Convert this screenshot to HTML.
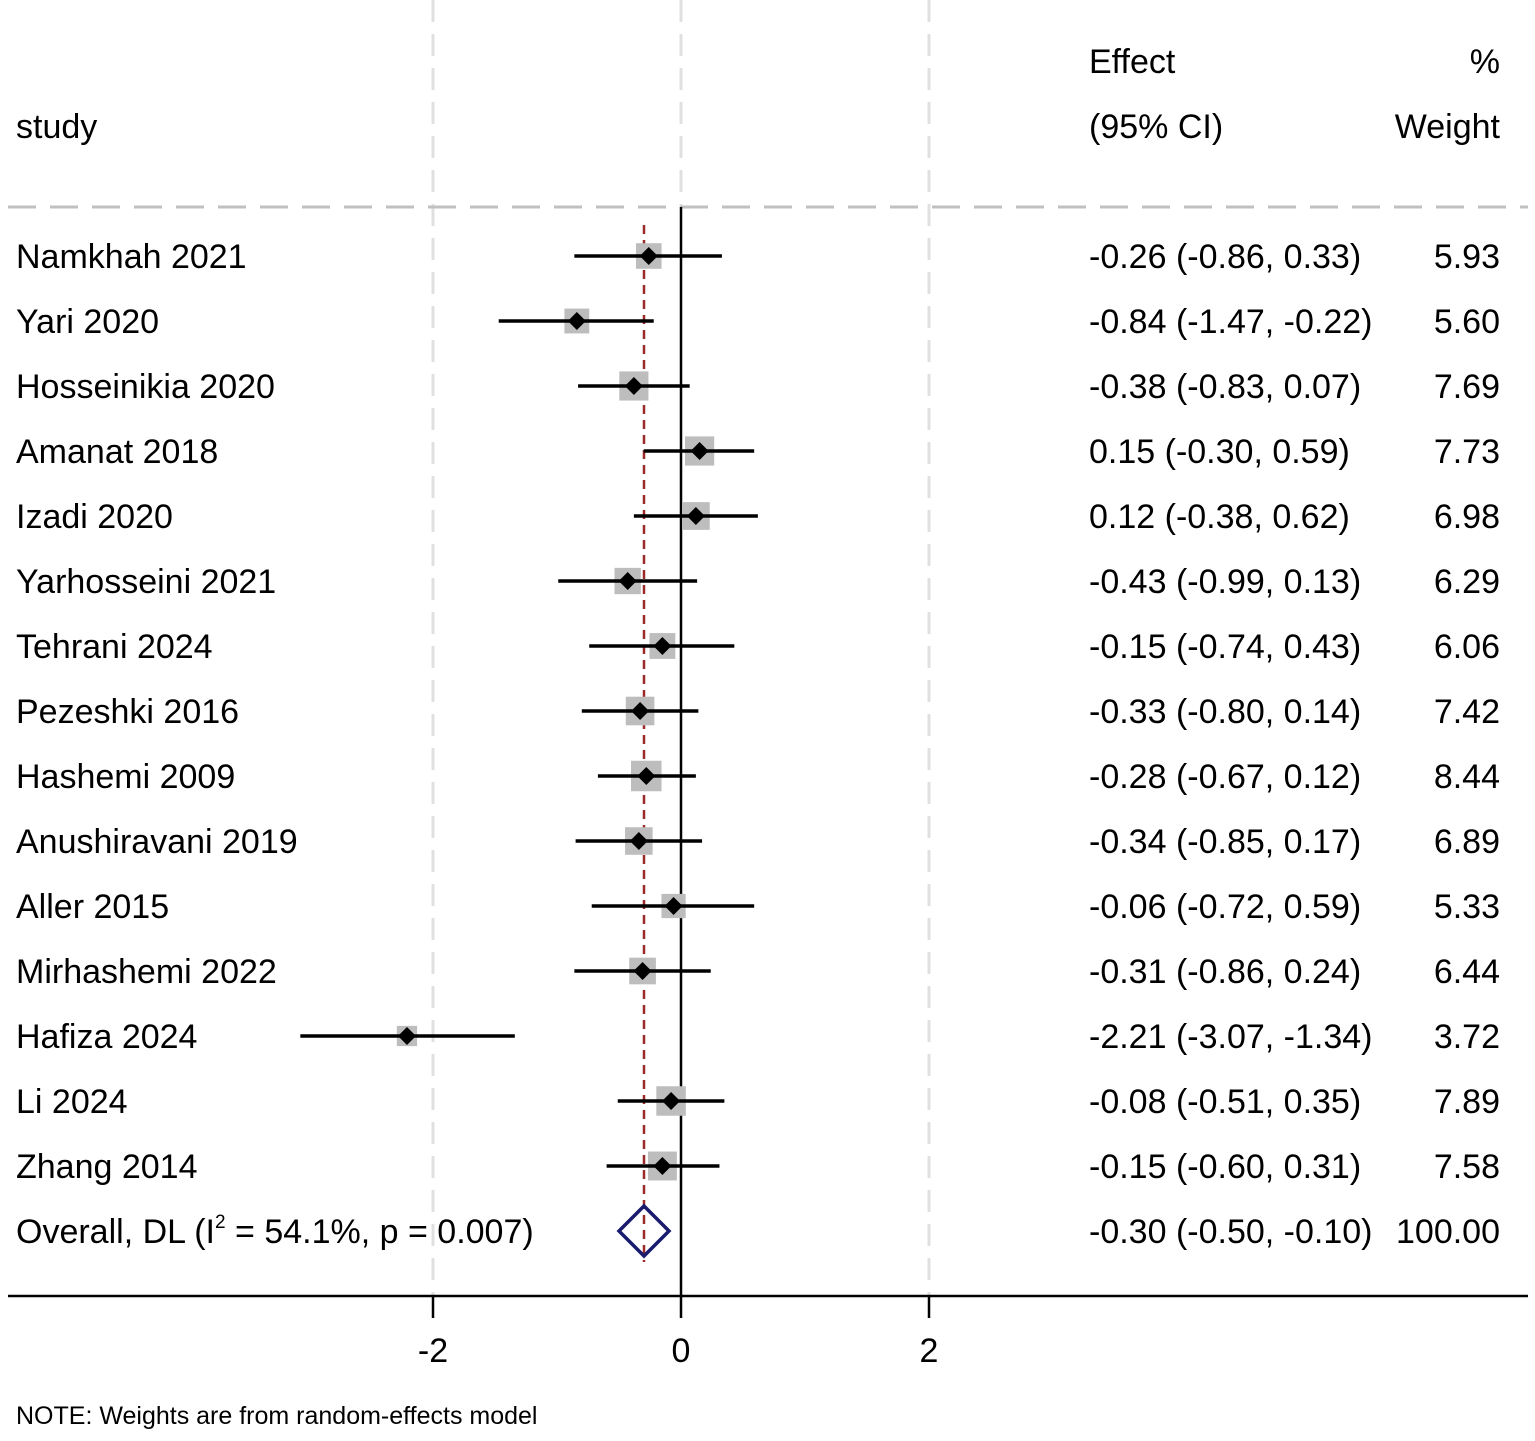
<!DOCTYPE html>
<html><head><style>body{margin:0;background:#fff}svg{display:block}text{font-family:"Liberation Sans",Arial,sans-serif;fill:#000}</style></head><body>
<svg width="1535" height="1441" viewBox="0 0 1535 1441" xmlns="http://www.w3.org/2000/svg">
<g stroke="#e0e0e0" stroke-width="3" stroke-dasharray="22,12">
<line x1="433" y1="0" x2="433" y2="1296"/><line x1="681" y1="0" x2="681" y2="207"/><line x1="929" y1="0" x2="929" y2="1296"/>
</g>
<line x1="8" y1="207" x2="1528" y2="207" stroke="#c0c0c0" stroke-width="3" stroke-dasharray="28,14"/>
<text x="1089" y="73" font-size="34">Effect</text>
<text x="1500" y="73" font-size="34" text-anchor="end">%</text>
<text x="16" y="138" font-size="34">study</text>
<text x="1089" y="138" font-size="34">(95% CI)</text>
<text x="1500" y="138" font-size="34" text-anchor="end">Weight</text>
<line x1="681" y1="207" x2="681" y2="1296" stroke="#000" stroke-width="2.5"/>
<line x1="644" y1="225" x2="644" y2="1262" stroke="#9b2a2a" stroke-width="2.5" stroke-dasharray="9,6"/>
<g id="rows"></g>
<path d="M619 1231 L644 1206 L669 1231 L644 1256 Z" fill="none" stroke="#1a1a6e" stroke-width="3.5"/>
<text x="16" y="1243" font-size="34">Overall, DL (I<tspan font-size="19" dy="-15">2</tspan><tspan dy="15"> = 54.1%, p = 0.007)</tspan></text>
<text x="1089" y="1243" font-size="34">-0.30 (-0.50, -0.10)</text>
<text x="1500" y="1243" font-size="34" text-anchor="end">100.00</text>
<line x1="8" y1="1296" x2="1528" y2="1296" stroke="#000" stroke-width="2.5"/>
<g stroke="#000" stroke-width="2.5"><line x1="433" y1="1296" x2="433" y2="1318"/><line x1="681" y1="1296" x2="681" y2="1318"/><line x1="929" y1="1296" x2="929" y2="1318"/></g>
<text x="433" y="1362" font-size="34" text-anchor="middle">-2</text>
<text x="681" y="1362" font-size="34" text-anchor="middle">0</text>
<text x="929" y="1362" font-size="34" text-anchor="middle">2</text>
<text x="16" y="1424" font-size="25">NOTE: Weights are from random-effects model</text>
</svg>
<script>
var d=[["Namkhah 2021",-0.26,-0.86,0.33,"5.93"],["Yari 2020",-0.84,-1.47,-0.22,"5.60"],["Hosseinikia 2020",-0.38,-0.83,0.07,"7.69"],["Amanat 2018",0.15,-0.30,0.59,"7.73"],["Izadi 2020",0.12,-0.38,0.62,"6.98"],["Yarhosseini 2021",-0.43,-0.99,0.13,"6.29"],["Tehrani 2024",-0.15,-0.74,0.43,"6.06"],["Pezeshki 2016",-0.33,-0.80,0.14,"7.42"],["Hashemi 2009",-0.28,-0.67,0.12,"8.44"],["Anushiravani 2019",-0.34,-0.85,0.17,"6.89"],["Aller 2015",-0.06,-0.72,0.59,"5.33"],["Mirhashemi 2022",-0.31,-0.86,0.24,"6.44"],["Hafiza 2024",-2.21,-3.07,-1.34,"3.72"],["Li 2024",-0.08,-0.51,0.35,"7.89"],["Zhang 2014",-0.15,-0.60,0.31,"7.58"]];
function f(v){return (v<0?"-":"")+Math.abs(v).toFixed(2);}
var s="",X=function(v){return 681+124*v;};
d.forEach(function(r,i){var y=256+65*i,w=parseFloat(r[4]),a=10.5*Math.sqrt(w),c=X(r[1]);
s+='<rect x="'+(c-a/2)+'" y="'+(y-a/2)+'" width="'+a+'" height="'+a+'" fill="#bdbdbd"/>';
s+='<line x1="'+X(r[2])+'" y1="'+y+'" x2="'+X(r[3])+'" y2="'+y+'" stroke="#000" stroke-width="3.5"/>';
s+='<path d="M'+(c-9)+' '+y+' L'+c+' '+(y-9)+' L'+(c+9)+' '+y+' L'+c+' '+(y+9)+' Z" fill="#000"/>';
s+='<text x="16" y="'+(y+12)+'" font-size="34">'+r[0]+'</text>';
s+='<text x="1089" y="'+(y+12)+'" font-size="34">'+f(r[1])+' ('+f(r[2])+', '+f(r[3])+')</text>';
s+='<text x="1500" y="'+(y+12)+'" font-size="34" text-anchor="end">'+r[4]+'</text>';});
document.getElementById("rows").innerHTML=s;
</script>
</body></html>
